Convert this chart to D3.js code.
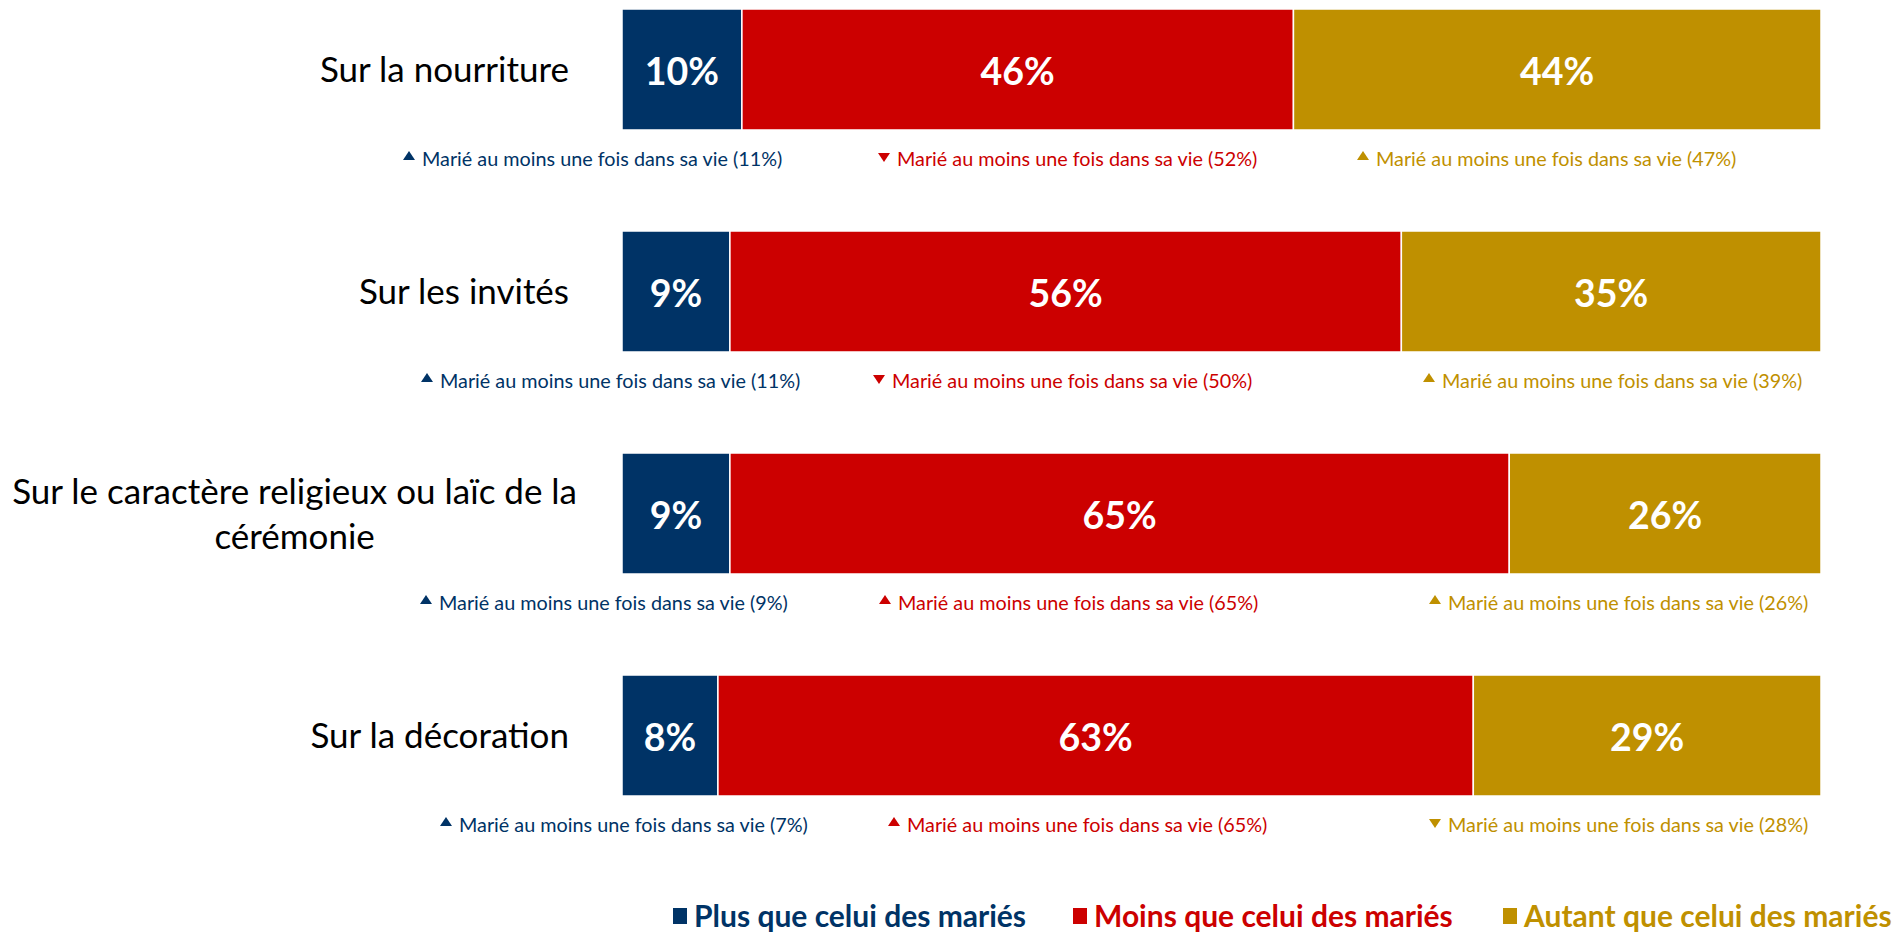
<!DOCTYPE html>
<html>
<head>
<meta charset="utf-8">
<script src="https://cdn.jsdelivr.net/npm/d3@7/dist/d3.min.js"></script>
<style>
  html, body { margin: 0; padding: 0; background: #fff; }
  svg { display: block; }
  text { font-family: Lato, "Open Sans", sans-serif; }
</style>
</head>
<body>
<svg id="chart" width="1901" height="932"></svg>
<script>
// ---- Data ----
const categories = [
  ["Sur la nourriture"],
  ["Sur les invités"],
  ["Sur le caractère religieux ou laïc de la", "cérémonie"],
  ["Sur la décoration"]
];
const seriesNames = ["Plus que celui des mariés", "Moins que celui des mariés", "Autant que celui des mariés"];
const plusValues   = [10, 9, 9, 8];
const moinsValues  = [46, 56, 65, 63];
const autantValues = [44, 35, 26, 29];
// "Marié au moins une fois dans sa vie" sub-group values and direction arrows
const subLabel = "Marié au moins une fois dans sa vie";
const plusSub    = [11, 11, 9, 7];
const moinsSub   = [52, 50, 65, 65];
const autantSub  = [47, 39, 26, 28];
const plusDir    = ["up", "up", "up", "up"];
const moinsDir   = ["down", "down", "up", "up"];
const autantDir  = ["up", "up", "up", "down"];

// ---- Styles / layout ----
const colors = ["#003366", "#CC0000", "#BF9000"];
const svg = d3.select("#chart");

const x = d3.scaleLinear().domain([0, 100]).range([622, 1821]);
const y = d3.scaleBand().domain(d3.range(categories.length)).range([9, 796]).paddingInner(0.455).paddingOuter(0);

const allValues = [plusValues, moinsValues, autantValues];
const allSub = [plusSub, moinsSub, autantSub];
const allDir = [plusDir, moinsDir, autantDir];

// stacked data
const rows = categories.map((c, i) => ({ i, vals: allValues.map(a => a[i]) }));
const stack = d3.stack().keys([0, 1, 2]).value((d, k) => d.vals[k]);
const stacked = stack(rows);

// bars
const gBars = svg.append("g");
stacked.forEach((layer, k) => {
  gBars.selectAll(null)
    .data(layer)
    .enter()
    .append("rect")
    .attr("x", d => x(d[0]))
    .attr("y", d => y(d.data.i))
    .attr("width", d => x(d[1]) - x(d[0]))
    .attr("height", y.bandwidth())
    .attr("fill", colors[k])
    .attr("stroke", "#fff")
    .attr("stroke-width", 1.5);

  gBars.selectAll(null)
    .data(layer)
    .enter()
    .append("text")
    .attr("x", d => (x(d[0]) + x(d[1])) / 2)
    .attr("y", d => y(d.data.i) + y.bandwidth() / 2)
    .attr("dy", "0.42em")
    .attr("text-anchor", "middle")
    .attr("fill", "#fff")
    .attr("font-weight", "bold")
    .attr("font-size", 37.5)
    .text(d => d.data.vals[k] + "%");
});

// category labels
const labelRight = 569;
const labelSize = 35;
const lineH = 45;
categories.forEach((lines, i) => {
  const cy = y(i) + y.bandwidth() / 2;
  const t = svg.append("text")
    .attr("font-size", labelSize)
    .attr("fill", "#000");
  if (lines.length === 1) {
    t.attr("text-anchor", "end")
      .attr("x", labelRight)
      .attr("y", cy)
      .attr("dy", "0.36em")
      .text(lines[0]);
  } else {
    // centered multi-line block, widest line ending slightly past labelRight
    const tmp = svg.append("text").attr("font-size", labelSize).text(lines[0]);
    const w0 = tmp.node().getComputedTextLength();
    tmp.remove();
    const cx = labelRight + 8 - w0 / 2;
    t.attr("text-anchor", "middle");
    lines.forEach((ln, j) => {
      t.append("tspan")
        .attr("x", cx)
        .attr("y", cy + (j - (lines.length - 1) / 2) * lineH)
        .attr("dy", "0.36em")
        .text(ln);
    });
  }
});

// annotations under each bar
const annotX = [
  [403, 878, 1357],
  [421, 873, 1423],
  [420, 879, 1429],
  [440, 888, 1429]
];
const triUp = "M0,9 L6,0 L12,9 Z";
const triDown = "M0,0 L12,0 L6,9 Z";
categories.forEach((c, i) => {
  const base = y(i) + y.bandwidth() + 36;
  [0, 1, 2].forEach(k => {
    const x0 = annotX[i][k];
    const g = svg.append("g");
    const dir = allDir[k][i];
    g.append("path")
      .attr("d", dir === "up" ? triUp : triDown)
      .attr("transform", `translate(${x0},${base - (dir === "up" ? 15 : 13)})`)
      .attr("fill", colors[k]);
    g.append("text")
      .attr("x", x0 + 19)
      .attr("y", base)
      .attr("font-size", 19.8)
      .attr("fill", colors[k])
      .text(`${subLabel} (${allSub[k][i]}%)`);
  });
});

// legend
const legendX = [673, 1073, 1503];
const legendY = 916;
seriesNames.forEach((name, k) => {
  svg.append("rect")
    .attr("x", legendX[k])
    .attr("y", legendY - 8)
    .attr("width", 14)
    .attr("height", 16)
    .attr("fill", colors[k]);
  svg.append("text")
    .attr("x", legendX[k] + 21)
    .attr("y", legendY)
    .attr("dy", "0.36em")
    .attr("font-size", 30)
    .attr("font-weight", "bold")
    .attr("fill", colors[k])
    .text(name);
});
</script>
</body>
</html>
